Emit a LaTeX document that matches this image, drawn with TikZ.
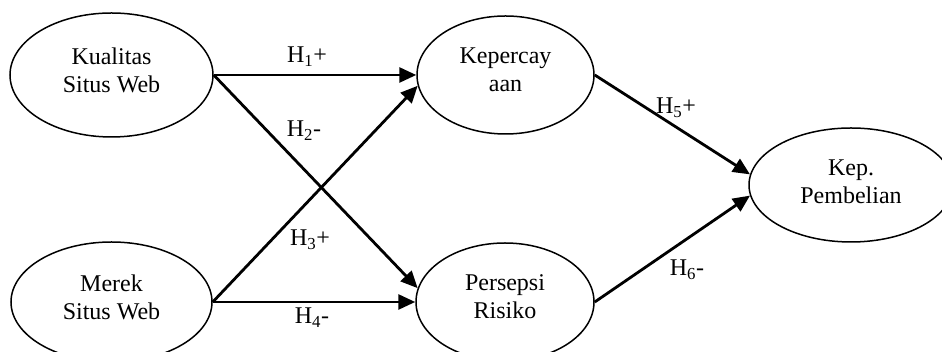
\documentclass[tikz,border=0pt]{standalone}
\usepackage{fontspec}
\setmainfont{Liberation Serif}
\usetikzlibrary{shapes.geometric,arrows.meta}
\begin{document}
\begin{tikzpicture}[x=1pt,y=1pt,
  construct/.style={ellipse, draw, line width=1.5pt, inner sep=0pt,
    align=center, font=\fontsize{24}{28}\selectfont, text depth=10pt},
  relation/.style={-{Triangle[length=17pt,width=15pt]}, line width=2.8pt},
  hyp/.style={font=\fontsize{24}{28}\selectfont, anchor=base, inner sep=0pt}]
\useasboundingbox (0,0) rectangle (942,352);
\clip (0,0) rectangle (942,352);

% latent constructs
\node[construct, minimum width=203pt, minimum height=124pt] (kual) at (111.5,277) {Kualitas\\Situs Web};
\node[construct, minimum width=201pt, minimum height=120pt] (merek) at (111.5,50) {Merek\\Situs Web};
\node[construct, minimum width=177pt, minimum height=118pt] (kep) at (505.5,277) {Kepercay\\aan};
\node[construct, minimum width=178pt, minimum height=118pt] (pers) at (505,50) {Persepsi\\Risiko};
\node[construct, minimum width=204pt, minimum height=114pt, text depth=7pt] (pemb) at (851,167) {Kep.\\Pembelian};

% hypothesised paths
\draw[relation] (kual.east) -- (kep.west);
\draw[relation] (kual.east) -- (pers.171);
\draw[relation] (merek.east) -- (kep.187);
\draw[relation] (merek.east) -- (pers.west);
\draw[relation] (kep.east) -- (pemb.174);
\draw[relation] (pers.east) -- (pemb.186);

% hypothesis labels
\node[hyp] (h1) at (307,289) {H\textsubscript{1}+};
\node[hyp] (h2) at (304,215) {H\textsubscript{2}-};
\node[hyp] (h3) at (310,106) {H\textsubscript{3}+};
\node[hyp] (h4) at (312,28) {H\textsubscript{4}-};
\node[hyp] (h5) at (676,238) {H\textsubscript{5}+};
\node[hyp] (h6) at (687,76) {H\textsubscript{6}-};
\end{tikzpicture}
\end{document}
